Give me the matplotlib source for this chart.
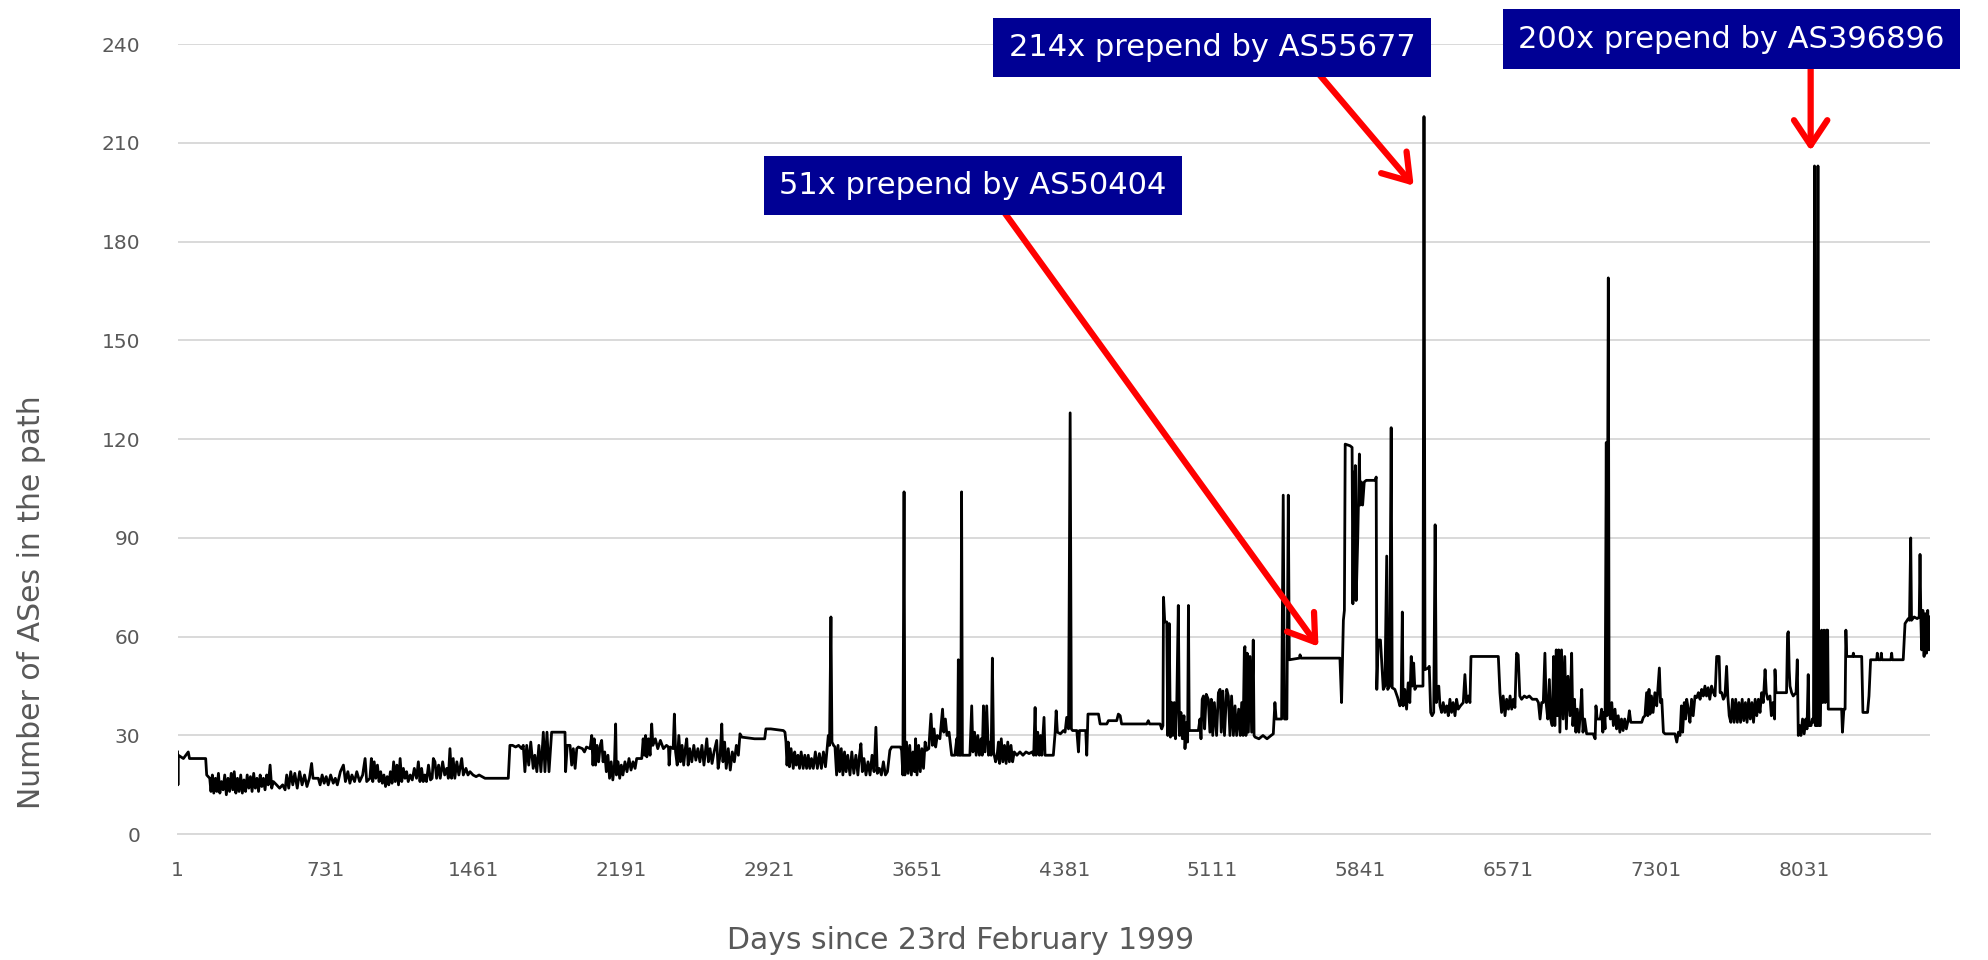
import matplotlib
matplotlib.use('Agg')
import matplotlib.pyplot as plt
import numpy as np

# (day, number of ASes), split by period
p1999_2001 = [(1,25),(3,15),(5,24),(30,23),(54,25),(60,23),(140,23),(145,18),(160,17),
    (166,13),(173,18),(180,12.5),(188,17),(195,13),(203,18.5),(210,12.5),(218,16),(226,13.5),(234,18),
    (242,12),(250,17),(258,13),(266,18.5),(274,13.5),(281,19),(289,12.5),(297,17),(305,13),(313,18),
    (321,12.5),(329,16.5),(337,13),(345,18),(353,14),(361,17.5),(369,13),(377,18.5),(385,14),(393,17),
    (401,13),(409,18),(417,14.5),(425,17),(433,13.5),(441,18),(449,15),
    (458,21),(466,14),(474,16),(490,15),(505,14),(520,15),(532,13.5),(540,18),(550,14),(560,19),(570,15),
    (580,18.5),(592,14),(604,19),(616,15),(628,18),(640,14.5),(652,17),(663,21.5),(670,17),(696,17),
    (705,15),(715,18),(725,15.5),(735,17.5),(745,15),(757,18),(770,15.5),(780,17),(790,15),(805,19),
    (820,21),(830,16),(842,19),(852,15.5),(862,18),(875,16),(886,19),(900,16),(915,18),(927,23),(935,16)]

p2001_2004 = [(951,17),(958,23),(965,16),(972,22),(980,17),(988,21),(996,16),(1004,19),(1012,15.5),
    (1020,18),(1028,14.5),(1036,17.5),(1044,15),(1052,19),(1060,15.5),(1068,22),(1076,16),(1084,21),
    (1092,15),(1100,23),(1108,16),(1116,20),(1124,17),(1132,19),(1140,16),(1150,18),(1160,16.5),(1170,20),
    (1181,17),(1190,22),(1198,16),(1206,20),(1214,16),(1222,18),(1230,16),(1240,21),(1250,16.5),(1258,17),
    (1264,23),(1272,22),(1280,17),(1290,21),(1298,17),(1310,22),(1320,18),(1330,20),(1338,17),(1346,26),
    (1354,17),(1362,23),(1370,17),(1380,22),(1390,18),(1404,23),(1412,18),(1425,20),(1435,18),(1445,19),
    (1460,18),(1475,17.5),(1490,18),(1505,17.5),(1519,17),(1634,17),(1642,27),(1655,27),(1670,26.5),
    (1685,27),(1700,26),(1708,27),(1716,19),(1725,27),(1735,21),(1745,28),(1757,20),(1765,24),(1775,19),
    (1785,27),(1795,19),(1807,31),(1815,19),(1825,31),(1835,19),(1848,31),(1880,31),(1914,31),(1917,19),
    (1925,27)]

p2004_2007 = [(1939,27),(1947,21),(1955,26),(1964,20),(1972,26),(1980,26.5),(2000,26),(2010,25),(2020,26.5),
    (2038,26),(2046,30),(2052,21),(2058,29),(2065,21),(2072,27),(2080,22),(2088,27),(2095,28.5),(2102,22),
    (2110,25),(2118,19),(2126,24),(2134,17),(2142,22),(2150,16.5),(2158,21),(2164,33.5),(2168,18),(2176,22),
    (2184,17),(2192,21),(2200,18),(2210,22),(2220,19),(2230,23),(2240,19.5),(2250,22),(2260,20),(2268,23),
    (2293,23),(2300,29),(2306,24),(2312,30),(2318,23.5),(2326,29),(2334,24),(2342,33.5),(2348,27),(2360,29),
    (2372,26),(2385,28.5),(2400,26),(2415,27),(2425,26.5),(2428,21),(2434,26.5),(2448,26),(2454,36.5),
    (2460,25),(2468,21),(2476,30),(2484,22),(2492,27),(2500,21),(2508,26),(2515,29),(2522,21),(2530,26),
    (2540,22),(2550,27),(2560,22.5),(2570,26),(2580,22),(2590,27),(2600,21),(2614,29),(2622,22),(2630,26),
    (2640,21.5),(2650,25),(2663,28.5),(2670,20),(2680,24),(2688,33.5),(2694,22),(2702,28),(2710,20),
    (2720,26),(2730,19.5),(2740,25),(2750,22),(2760,27),(2770,24),(2778,30.5),(2787,29.5),(2850,29),
    (2900,29),(2906,32),(2930,32)]

p2007_2009 = [(2992,31.5),(3000,31),(3005,28),(3010,21),(3016,28),(3022,20.5),(3030,26),(3041,20),(3048,25),
    (3056,21),(3064,24),(3072,20),(3080,25),(3090,20),(3098,24),(3107,20),(3115,24),(3123,20),(3131,23),
    (3140,20),(3150,25),(3160,20),(3170,24.5),(3180,20),(3190,25),(3200,20.5),(3208,26),(3214,30),(3220,27),
    (3227,66),(3232,28),(3240,27),(3247,26.5),(3255,18),(3262,27),(3270,19),(3278,26),(3286,18),(3294,25),
    (3302,19),(3310,24),(3321,18),(3330,25),(3340,18.5),(3350,24),(3360,18),(3368,24),(3375,27.5),(3382,19),
    (3390,23),(3400,18),(3410,22),(3420,18),(3430,24),(3440,19),(3449,32.5),(3456,18.5),(3466,20),(3476,18),
    (3486,22),(3496,18),(3506,19),(3518,25.5),(3527,26.5),(3570,26.5),(3576,25.5),(3582,18),(3588,104),
    (3592,18),(3600,28),(3608,18.5),(3616,27),(3624,18),(3632,25),(3640,19),(3645,29),(3652,18),(3660,27),
    (3668,19),(3676,26),(3684,20),(3692,28),(3699,25.5),(3710,26),(3721,36.5),(3728,27),(3736,32),
    (3744,26.5),(3752,30),(3765,29),(3778,38),(3784,31),(3792,35),(3800,30),(3810,31),(3823,24),(3839,24),
    (3848,29),(3852,24),(3856,53),(3860,24),(3868,24),(3872,104),(3876,24),(3913,24)]

p2009_2012 = [(3922,39),(3928,25),(3936,31),(3944,24),(3952,30),(3960,24),(3968,29),(3974,24),(3980,39),
    (3988,25),(3996,39),(4005,24),(4012,28),(4018,24),(4024,53.5),(4030,25),(4040,22),(4046,23),(4054,28),
    (4060,21.5),(4068,29),(4076,22),(4084,27),(4092,21.5),(4100,28),(4108,22),(4116,27),(4124,22),(4132,25),
    (4145,24),(4160,25),(4175,24),(4190,25),(4205,24.5),(4220,25),(4228,24),(4235,38.5),(4240,24),(4248,31),
    (4256,24),(4262,30),(4268,24),(4279,35.5),(4284,24),(4293,24),(4325,24),(4334,31),(4339,37.5),(4345,31),
    (4360,30.5),(4375,31.5),(4383,31),(4391,35.5),(4400,32),(4408,128),(4414,32),(4420,31.5),(4441,31.5),
    (4449,25),(4454,31.5),(4485,31.5),(4490,24),(4496,36.5),(4548,36.5),(4556,33.5),(4589,33.5),(4597,34.5),
    (4638,34.5),(4646,36.5),(4655,36),(4662,33.5),(4786,33.5),(4794,34.5),(4800,33.5),(4852,33.5),(4860,32),
    (4866,33),(4869,72),(4875,64.5),(4877,64.5)]

p2012_2015 = [(4885,64.5),(4890,30),(4897,64),(4903,29.5),(4910,40),(4915,30),(4922,40),(4928,29),(4934,38),
    (4942,69.5),(4948,30),(4955,37),(4962,29),(4970,36),(4975,26),(4983,34),(4988,28),(4992,69.5),
    (4996,31.5),(5041,31.5),(5049,35),(5054,29),(5060,41),(5066,42),(5072,32),(5080,42.5),(5090,41),
    (5098,31),(5105,41),(5112,30),(5120,40),(5131,30),(5140,43),(5148,44),(5154,31),(5162,43.5),(5170,30),
    (5181,44),(5189,42),(5197,30),(5205,42),(5214,30),(5222,39),(5230,30),(5240,38),(5248,30),(5255,40),
    (5262,30),(5268,56),(5271,57),(5276,30),(5282,55),(5288,31),(5296,54),(5304,31),(5312,59),(5316,30),
    (5321,29.5),(5340,29),(5360,30),(5380,29),(5400,30),(5411,30.5),(5419,40),(5425,35),(5452,35),
    (5460,103),(5466,35),(5478,35),(5485,103),(5490,53),(5540,53.5),(5543,54.5),(5548,53.5),(5740,53.5),
    (5748,40),(5757,65)]

p2015_2017 = [(5762,68),(5766,118.5),(5790,118),(5800,117.5),(5804,70),(5808,110),(5812,72),(5816,112),
    (5820,71),(5828,90),(5836,115.5),(5840,100),(5846,107),(5852,100),(5860,107),(5870,107.5),(5914,107.5),
    (5919,108.5),(5922,44),(5929,59),(5940,59),(5954,44),(5962,45),(5971,84.5),(5976,44),(5985,45),
    (5993,123.5),(5998,44.5),(6011,44),(6025,41.5),(6036,39),(6042,40),(6048,67.5),(6052,39),(6060,44),
    (6069,38),(6077,46),(6085,40),(6092,54),(6098,45),(6104,52),(6110,44),(6118,45),(6150,45),(6155,218),
    (6160,50),(6176,50.5),(6181,51),(6188,37),(6195,36),(6203,37),(6210,94),(6216,40),(6228,45),(6234,39),
    (6242,37),(6250,40),(6258,37),(6267,39),(6275,36),(6283,41),(6291,37),(6299,40),(6308,36),(6316,41),
    (6324,38),(6335,39),(6349,40),(6357,48.5),(6365,40),(6374,42),(6382,40),(6387,54),(6522,54),(6530,43),
    (6538,37),(6546,42),(6555,36),(6563,41),(6572,38),(6580,42),(6588,38),(6596,41),(6604,38.5),(6612,55),
    (6620,54.5),(6628,42),(6637,41),(6650,42),(6662,41.5),(6675,42),(6690,41),(6711,41),(6720,40),(6728,35),
    (6736,40),(6744,40),(6752,55),(6758,40),(6766,35),(6774,47),(6780,35),(6788,33),(6795,54),(6801,33),
    (6808,56),(6814,36),(6820,56),(6826,31),(6834,56),(6842,35),(6850,54),(6858,32),(6866,48),(6876,36)]

p2017_2020 = [(6884,55),(6890,33),(6898,41),(6905,31),(6912,38),(6920,31),(6927,37),(6934,44),(6940,31),
    (6948,35),(6958,30.5),(6990,30.5),(7000,29),(7004,39),(7010,35),(7025,35),(7032,38),(7038,31),(7044,37),
    (7049,32),(7055,119),(7058,36),(7065,169),(7069,38),(7075,35),(7082,40),(7090,33),(7098,38),(7106,32),
    (7114,36),(7122,31),(7130,35),(7138,31.5),(7146,35),(7154,32),(7164,35),(7169,37.5),(7176,34),(7230,34),
    (7238,35.5),(7246,36),(7254,43),(7260,36),(7266,44),(7271,36.5),(7278,42),(7286,37),(7295,43),(7304,39),
    (7317,50.5),(7323,40),(7329,41),(7337,31),(7345,30.5),(7394,30.5),(7403,28),(7411,31),(7419,30),
    (7426,39),(7432,31),(7440,40),(7447,35),(7452,41),(7460,38),(7468,34),(7476,41),(7484,36),(7493,42),
    (7501,41.5),(7510,43),(7518,41),(7526,44),(7534,42),(7542,45),(7550,42),(7558,44.5),(7566,41),(7575,45),
    (7584,43),(7592,42),(7600,54),(7612,54),(7617,43),(7625,43),(7633,41),(7641,42),(7649,51),(7655,42),
    (7662,36),(7670,34),(7678,41),(7686,34),(7694,41),(7702,34),(7710,40),(7718,34),(7726,41),(7734,34.5),
    (7742,40),(7750,34),(7758,41),(7766,35),(7774,40),(7782,34),(7790,41),(7798,36),(7806,41),(7814,37),
    (7822,43),(7830,40),(7839,50),(7845,43),(7852,41),(7863,42)]

p2020_2022 = [(7870,36),(7878,40),(7886,35),(7888,50),(7893,43),(7945,43),(7950,61),(7954,61.5),(7958,50),
    (7962,45),(7970,43),(7978,42),(7992,43),(7998,53),(8003,30),(8010,33),(8016,30),(8024,35),(8032,30.5),
    (8040,35),(8046,32),(8052,48.5),(8056,33),(8066,33),(8072,35),(8078,34),(8083,203),(8087,33),(8095,33),
    (8100,203),(8104,33),(8112,33),(8118,62),(8124,40),(8130,62),(8136,40),(8142,62),(8148,62),(8151,38),
    (8217,38),(8221,31),(8228,38),(8234,38),(8238,62),(8242,54),(8272,54),(8275,55),(8278,54),(8316,54),
    (8322,37),(8345,37),(8352,42),(8360,53),(8390,53),(8393,55),(8397,53),(8410,53),(8413,55),(8416,53),
    (8460,53),(8464,55),(8467,53),(8521,53),(8530,64),(8546,65.5),(8552,65),(8558,90),(8562,65),(8575,66),
    (8590,65.5),(8600,66),(8604,85),(8608,66),(8612,56),(8618,68),(8624,54),(8630,67),(8636,55),(8642,68),
    (8648,56),(8653,66)]

x_ticks = [1, 731, 1461, 2191, 2921, 3651, 4381, 5111, 5841, 6571, 7301, 8031]
y_ticks = [0, 30, 60, 90, 120, 150, 180, 210, 240]

# annotation: text, box centre, arrow tail, arrow tip
notes = [("51x prepend by AS50404", (3928, 197), (4070, 190), (5634, 57)),
         ("214x prepend by AS55677", (5108, 239), (5635, 231), (6104, 197)),
         ("200x prepend by AS396896", (7671, 241.5), (8064, 232.6), (8064, 207.6))]

series = p1999_2001 + p2001_2004 + p2004_2007 + p2007_2009 + p2009_2012 + \
         p2012_2015 + p2015_2017 + p2017_2020 + p2020_2022
days = np.array([d for d, v in series])
ases = np.array([v for d, v in series])

fig = plt.figure(figsize=(19.88, 9.6), dpi=100)
ax = fig.add_axes([0.0893, 0.131, 0.8815, 0.823])

ax.plot(days, ases, color='black', lw=2.0, zorder=3)

ax.set_xlim(1, 8653)
ax.set_ylim(0, 240)
ax.set_xticks(x_ticks)
ax.set_yticks(y_ticks)
ax.grid(axis='y', color='#d9d9d9', lw=1.4)
ax.set_axisbelow(True)
for s in ['top', 'right', 'left']:
    ax.spines[s].set_visible(False)
ax.spines['bottom'].set_color('#d9d9d9')
ax.spines['bottom'].set_linewidth(1.4)
ax.tick_params(axis='both', length=0, labelsize=14.5, labelcolor='#595959')
ax.tick_params(axis='x', pad=19)
ax.tick_params(axis='y', pad=27)

fig.text(0.016, 0.373, 'Number of ASes in the path', rotation=90, ha='center', va='center',
         fontsize=21.5, color='#595959')
fig.text(0.483, 0.02, 'Days since 23rd February 1999', ha='center', va='center',
         fontsize=21.5, color='#595959')

for label, centre, tail, tip in notes:
    ax.annotate('', xy=tip, xytext=tail, annotation_clip=False, zorder=6,
                arrowprops=dict(arrowstyle='->,head_length=0.45,head_width=0.3', color='red',
                                lw=4.5, mutation_scale=40, shrinkA=0, shrinkB=0))
    ax.text(centre[0], centre[1], label, ha='center', va='center', color='white', fontsize=22,
            clip_on=False, zorder=7,
            bbox=dict(boxstyle='square,pad=0.5', fc='#000094', ec='none'))

fig.savefig('out.png', dpi=100)
